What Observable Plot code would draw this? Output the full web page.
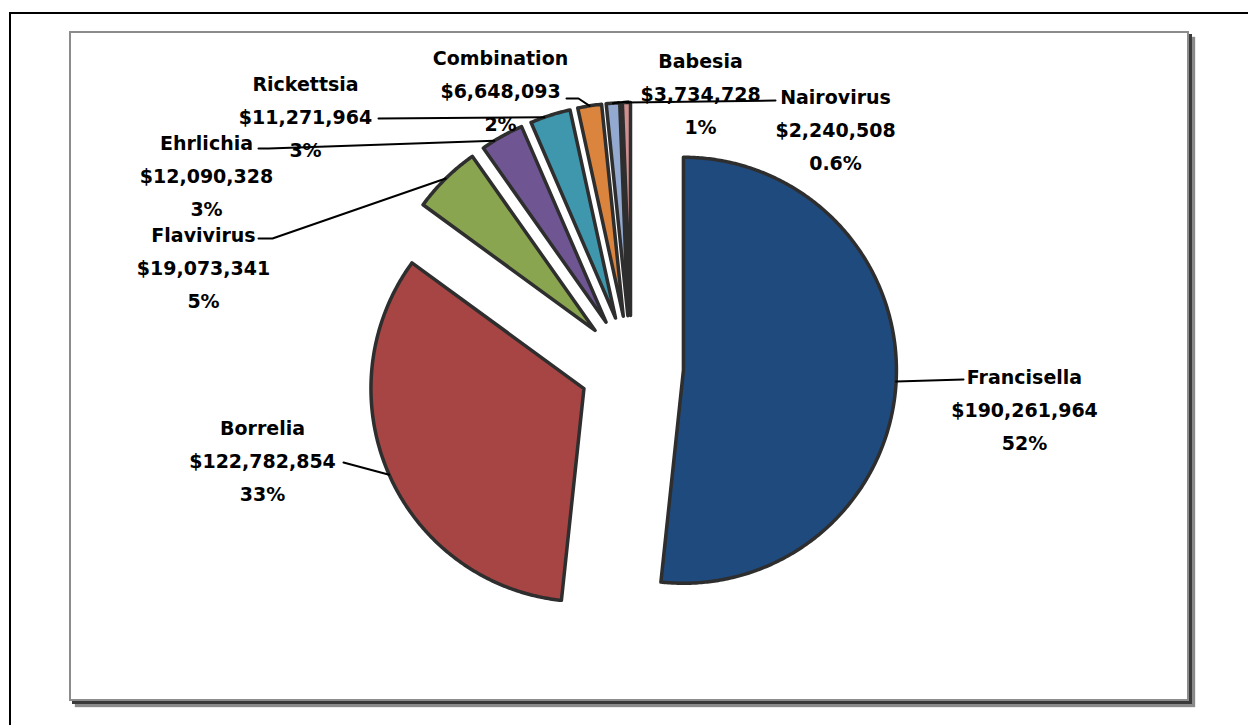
<!DOCTYPE html>
<html><head><meta charset="utf-8">
<script src="https://cdn.jsdelivr.net/npm/d3@7"></script>
<script src="https://cdn.jsdelivr.net/npm/@observablehq/plot@0.6"></script>
<style>
html,body{margin:0;padding:0;background:#fff;overflow:hidden;}
#wrap{position:relative;width:1248px;height:725px;overflow:hidden;}
#outer{position:absolute;left:9px;top:12px;width:1300px;height:800px;border-left:2px solid #000;border-top:2px solid #000;}
#inner{position:absolute;left:69px;top:31px;width:1116px;height:666px;border:2px solid #8c8c8c;box-shadow:3px 3px 0 #3a3a3a, 6px 6px 1px #8a8a8a;background:#fff;}
#chart{position:absolute;left:0;top:0;}
</style></head>
<body>
<div id="wrap"><div id="outer"></div><div id="inner"></div><div id="chart"></div></div>
<script>
// ---- data ----
const categories = ["Francisella","Borrelia","Flavivirus","Ehrlichia","Rickettsia","Combination","Babesia","Nairovirus"];
const amounts = [190261964,122782854,19073341,12090328,11271964,6648093,3734728,2240508];
const amountLabels = ["$190,261,964","$122,782,854","$19,073,341","$12,090,328","$11,271,964","$6,648,093","$3,734,728","$2,240,508"];
const percentLabels = ["52%","33%","5%","3%","3%","2%","1%","0.6%"];
const colors = ["#1F4A7E","#A64543","#8AA54F","#6F5693","#3F97AE","#DB843D","#94A9D0","#CF8F8E"];

// ---- layout (pixels) ----
const W = 1248, H = 725;
const CX = 631, CY = 367, R = 213, EXPLODE = 52;
// label block centre (x, middle line y) and leader start points, in pixels
const labelPos = [[1024,406],[262,457],[203,264],[206,172],[305,113],[500,87],[700,90],[835,126]];
const leaderStart = [
  [[963,379]],
  [[343,462]],
  [[258,238],[272,238]],
  [[258,148],[268,148]],
  [[378,118]],
  [[566,98],[578,98]],
  [[628,101]],
  [[775,100]]
];
// where along each slice's outer arc the leader meets it (0 = start, 1 = end)
const leaderArcFrac = [0.5,0.5,0.5,0.3,0.35,0.5,0.5,0.5];

const toX = px => (px - CX) / R;
const toY = py => (CY - py) / R;

const pie = d3.pie().sort(null).startAngle(0).endAngle(2 * Math.PI)(amounts);
const ex = EXPLODE / R;

const slicePts = [];
const leaderPts = [];
pie.forEach((p, i) => {
  const name = categories[i];
  const mid = (p.startAngle + p.endAngle) / 2;
  const ox = Math.sin(mid) * ex, oy = Math.cos(mid) * ex;
  slicePts.push({name, x: ox, y: oy});
  const n = Math.max(2, Math.ceil((p.endAngle - p.startAngle) / (Math.PI / 360)));
  for (let k = 0; k <= n; k++) {
    const a = p.startAngle + (p.endAngle - p.startAngle) * k / n;
    slicePts.push({name, x: ox + Math.sin(a), y: oy + Math.cos(a)});
  }
  // leader line
  leaderStart[i].forEach(([px, py]) => leaderPts.push({name, x: toX(px), y: toY(py)}));
  const la = p.startAngle + (p.endAngle - p.startAngle) * leaderArcFrac[i];
  leaderPts.push({name, x: ox + Math.sin(la), y: oy + Math.cos(la)});
});

const labels = categories.map((c, i) => ({
  name: c,
  x: toX(labelPos[i][0]),
  y: toY(labelPos[i][1]),
  text: c + "\n" + amountLabels[i] + "\n" + percentLabels[i]
}));

const chart = Plot.plot({
  width: W, height: H, margin: 0,
  style: {background: "transparent", overflow: "visible"},
  x: {domain: [toX(0), toX(W)], axis: null},
  y: {domain: [toY(H), toY(0)], axis: null},
  color: {domain: categories, range: colors},
  marks: [
    Plot.line(slicePts, {x: "x", y: "y", z: "name", fill: "name", stroke: "#2e2e2e", strokeWidth: 3.5, strokeLinejoin: "round", curve: "linear-closed"}),
    Plot.text(labels, {x: "x", y: "y", text: "text", textAnchor: "middle", lineAnchor: "middle", lineHeight: 1.72, fontSize: 19, fontWeight: "bold", fontFamily: "DejaVu Sans", fill: "#000"}),
    Plot.line(leaderPts, {x: "x", y: "y", z: "name", stroke: "#000", strokeWidth: 2})
  ]
});
document.getElementById("chart").appendChild(chart);
</script>
</body></html>
